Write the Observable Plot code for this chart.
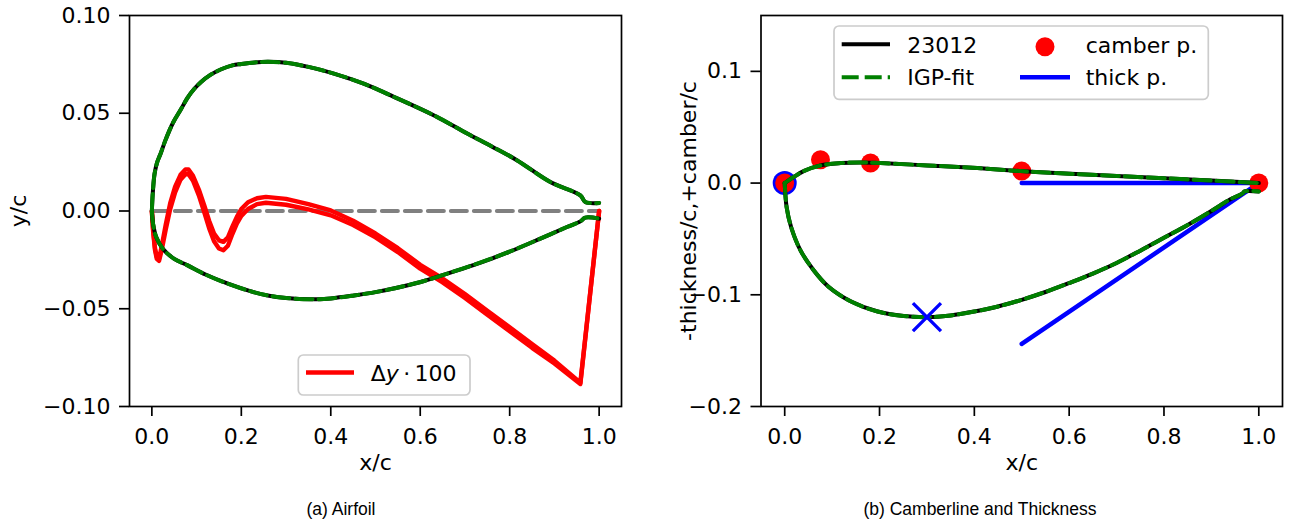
<!DOCTYPE html>
<html><head><meta charset="utf-8">
<script src="https://cdn.jsdelivr.net/npm/d3@7"></script>
<script src="https://cdn.jsdelivr.net/npm/@observablehq/plot@0.6"></script>
<style>
body{margin:0;background:#fff;}
#wrap{position:relative;width:1290px;height:526px;overflow:hidden;background:#fff;}
#wrap svg{position:absolute;top:0;}
</style></head><body><div id="wrap"></div>
<script>
// ---------- Panel (a): airfoil ----------
const upperX = [0, 0.002, 0.006, 0.012, 0.019, 0.03, 0.047, 0.065, 0.08, 0.095, 0.11, 0.13, 0.155, 0.18, 0.2, 0.23, 0.26, 0.3, 0.35, 0.407, 0.475, 0.541, 0.63, 0.705, 0.76, 0.816, 0.891, 0.958, 0.969, 1.0];
const upperY = [0, 0.009, 0.019, 0.025, 0.029, 0.036, 0.045, 0.052, 0.058, 0.0625, 0.066, 0.0695, 0.0725, 0.0745, 0.0752, 0.076, 0.0763, 0.0758, 0.0737, 0.0703, 0.065, 0.0584, 0.049, 0.0396, 0.033, 0.026, 0.0148, 0.008, 0.0046, 0.0041];
const lowerX = [0, 0.003, 0.0097, 0.0245, 0.05, 0.08, 0.12, 0.17, 0.22, 0.259, 0.3, 0.355, 0.4, 0.452, 0.5, 0.601, 0.65, 0.705, 0.76, 0.816, 0.87, 0.928, 0.958, 0.969, 1.0];
const lowerY = [0, -0.007, -0.0133, -0.0193, -0.0245, -0.0278, -0.0325, -0.0372, -0.041, -0.0432, -0.0445, -0.0452, -0.0447, -0.0432, -0.0415, -0.0363, -0.0328, -0.0287, -0.0243, -0.0193, -0.014, -0.0082, -0.0053, -0.0034, -0.0039];
const dyX  = [0, 0.003, 0.007, 0.011, 0.016, 0.022, 0.031, 0.041, 0.052, 0.064, 0.075, 0.082, 0.092, 0.105, 0.117, 0.128, 0.139, 0.15, 0.16, 0.17, 0.18, 0.19, 0.2, 0.215, 0.235, 0.255, 0.3, 0.35, 0.4, 0.45, 0.5, 0.55, 0.6, 0.65, 0.7, 0.75, 0.8, 0.85, 0.9, 0.958, 1.0];
const dyA  = [0, -0.01, -0.019, -0.0235, -0.0245, -0.018, -0.007, 0.004, 0.0125, 0.0185, 0.0212, 0.0212, 0.018, 0.011, 0.003, -0.005, -0.0115, -0.015, -0.0158, -0.0135, -0.008, -0.003, 0.001, 0.0045, 0.0065, 0.0072, 0.0062, 0.0035, 0.0003, -0.005, -0.0115, -0.019, -0.0275, -0.0345, -0.0425, -0.051, -0.0595, -0.068, -0.0765, -0.0878, 0];
const dyB  = [0, -0.011, -0.02, -0.0245, -0.0255, -0.02, -0.0095, 0.001, 0.0095, 0.016, 0.0188, 0.0188, 0.0155, 0.008, -0.0005, -0.0088, -0.0155, -0.0192, -0.0201, -0.0178, -0.0118, -0.0065, -0.0025, 0.001, 0.0035, 0.0042, 0.0032, 0.0008, -0.0022, -0.0072, -0.0135, -0.021, -0.0295, -0.0365, -0.0445, -0.053, -0.0615, -0.07, -0.078, -0.0885, 0];
const refX = [0, 1];
const refY = [0, 0];
const xTicks = [0, 0.2, 0.4, 0.6, 0.8, 1.0];
const yTicksA = [-0.1, -0.05, 0, 0.05, 0.1];

// ---------- Panel (b): camberline and thickness ----------
const camberX = [0, 0.019, 0.04, 0.0755, 0.118, 0.16, 0.202, 0.301, 0.406, 0.497, 0.582, 0.7, 0.8, 0.9, 1.0];
const camberY = [0, 0.0054, 0.0107, 0.0158, 0.0179, 0.0185, 0.0179, 0.0158, 0.0134, 0.0107, 0.0087, 0.0064, 0.0043, 0.0022, 0];
const thickX = [0, 0.004, 0.0135, 0.033, 0.061, 0.093, 0.14, 0.196, 0.251, 0.3, 0.35, 0.4, 0.45, 0.5, 0.55, 0.6, 0.65, 0.7, 0.75, 0.8, 0.85, 0.9, 0.94, 0.965, 0.97, 1.0];
const thickY = [0, -0.0214, -0.0393, -0.06, -0.078, -0.093, -0.106, -0.115, -0.119, -0.12, -0.1185, -0.115, -0.1105, -0.1045, -0.0975, -0.0895, -0.081, -0.0715, -0.0605, -0.049, -0.0375, -0.025, -0.0145, -0.0095, -0.0075, -0.0075];
const camberPtX = [0, 0.0755, 0.181, 0.5, 1.0];
const camberPtY = [0, 0.0209, 0.0179, 0.0107, 0];
const thickLEX = [0], thickLEY = [0];
const thickMaxX = [0.3], thickMaxY = [-0.12];
const thickTopX = [0.5, 1.0], thickTopY = [0, 0];
const thickSlopeX = [0.5, 1.0], thickSlopeY = [-0.144, 0];
const yTicksB = [-0.2, -0.1, 0, 0.1];

const pts = (xs, ys, s) => xs.map((x, i) => ({x, y: ys[i], s}));
const airfoil = [...pts(upperX, upperY, "u"), ...pts(lowerX, lowerY, "l")];
const dyLines = [...pts(dyX, dyA, "a"), ...pts(dyX, dyB, "b")];
const refLine = pts(refX, refY, "r");
const camberThick = [...pts(camberX, camberY, "c"), ...pts(thickX, thickY, "t")];
const thickLines = [...pts(thickTopX, thickTopY, "top"), ...pts(thickSlopeX, thickSlopeY, "slope")];

const FONT = "DejaVu Sans";
const style = {fontFamily: FONT, fontSize: "22px", color: "black", background: "transparent", overflow: "visible"};
const f1 = d3.format(".1f"), f2 = d3.format(".2f");
const ident = d => d;

const figA = Plot.plot({
  width: 660, height: 490,
  marginLeft: 129, marginRight: 39, marginTop: 15, marginBottom: 84,
  x: {domain: [-0.05, 1.05]},
  y: {domain: [-0.1, 0.1]},
  style,
  marks: [
    Plot.line(refLine, {x: "x", y: "y", stroke: "#808080", strokeWidth: 4, strokeDasharray: "16,7"}),
    Plot.line(dyLines, {x: "x", y: "y", z: "s", stroke: "red", strokeWidth: 4.4}),
    Plot.line(airfoil, {x: "x", y: "y", z: "s", stroke: "black", strokeWidth: 4, curve: "catmull-rom"}),
    Plot.line(airfoil, {x: "x", y: "y", z: "s", stroke: "green", strokeWidth: 4, strokeDasharray: "17,6", curve: "catmull-rom"}),
    Plot.frame({stroke: "black", strokeWidth: 1.7}),
    Plot.axisX({ticks: xTicks, tickFormat: f1, tickSize: 10, tickPadding: 12, strokeWidth: 1.7, label: null}),
    Plot.axisY({ticks: yTicksA, tickFormat: f2, tickSize: 10, tickPadding: 9, strokeWidth: 1.7, label: null}),
    Plot.text(["x/c"], {text: ident, frameAnchor: "bottom", dy: 63}),
    Plot.text(["y/c"], {text: ident, frameAnchor: "left", textAnchor: "middle", dx: -111, rotate: -90})
  ]
});
figA.style.left = "0px";

const figB = Plot.plot({
  width: 630, height: 490,
  marginLeft: 100.5, marginRight: 8, marginTop: 15, marginBottom: 84,
  x: {domain: [-0.05, 1.05]},
  y: {domain: [-0.2, 0.15]},
  style,
  marks: [
    Plot.line(thickLines, {x: "x", y: "y", z: "s", stroke: "blue", strokeWidth: 4.5}),
    Plot.dot(pts(thickLEX, thickLEY), {x: "x", y: "y", r: 12, fill: "blue"}),
    Plot.dot(pts(camberPtX, camberPtY), {x: "x", y: "y", r: 9.5, fill: "red"}),
    Plot.line(camberThick, {x: "x", y: "y", z: "s", stroke: "black", strokeWidth: 4, curve: "catmull-rom"}),
    Plot.line(camberThick, {x: "x", y: "y", z: "s", stroke: "green", strokeWidth: 4, strokeDasharray: "17,6", curve: "catmull-rom"}),
    Plot.dot(pts(thickMaxX, thickMaxY), {x: "x", y: "y", r: 12.8, symbol: "times", stroke: "blue", strokeWidth: 3.3}),
    Plot.frame({stroke: "black", strokeWidth: 1.7}),
    Plot.axisX({ticks: xTicks, tickFormat: f1, tickSize: 10, tickPadding: 12, strokeWidth: 1.7, label: null}),
    Plot.axisY({ticks: yTicksB, tickFormat: f1, tickSize: 10, tickPadding: 9, strokeWidth: 1.7, label: null}),
    Plot.text(["x/c"], {text: ident, frameAnchor: "bottom", dy: 63}),
    Plot.text(["-thickness/c,+camber/c"], {text: ident, frameAnchor: "left", textAnchor: "middle", dx: -72.5, rotate: -90})
  ]
});
figB.style.left = "660px";

const wrap = document.getElementById("wrap");
wrap.appendChild(figA);
wrap.appendChild(figB);

// ---------- legends and captions (overlay) ----------
const NS = "http://www.w3.org/2000/svg";
const ov = document.createElementNS(NS, "svg");
ov.setAttribute("width", 1290); ov.setAttribute("height", 526);
ov.style.left = "0px"; ov.style.pointerEvents = "none";
ov.setAttribute("font-family", FONT); ov.setAttribute("font-size", 22);
const el = (tag, attrs, text) => {
  const e = document.createElementNS(NS, tag);
  for (const k in attrs) e.setAttribute(k, attrs[k]);
  if (text != null) e.textContent = text;
  ov.appendChild(e); return e;
};
// legend (a)
el("rect", {x: 298.3, y: 355, width: 171.7, height: 40, rx: 5, fill: "white", "fill-opacity": 0.8, stroke: "#cccccc", "stroke-width": 1.7});
el("line", {x1: 306, x2: 354, y1: 372.5, y2: 372.5, stroke: "red", "stroke-width": 4.4});
const tA = el("text", {x: 370.7, y: 380.7});
tA.innerHTML = 'Δ<tspan font-style="italic">y</tspan>\u2009·\u2009100';
// legend (b)
el("rect", {x: 834, y: 26, width: 374.3, height: 73.3, rx: 5, fill: "white", "fill-opacity": 0.8, stroke: "#cccccc", "stroke-width": 1.7});
el("line", {x1: 841.7, x2: 890, y1: 44.3, y2: 44.3, stroke: "black", "stroke-width": 4});
el("text", {x: 907.3, y: 53.3}, "23012");
el("line", {x1: 841.7, x2: 890, y1: 77.3, y2: 77.3, stroke: "green", "stroke-width": 4, "stroke-dasharray": "17,6"});
el("text", {x: 907.3, y: 85.3}, "IGP-fit");
el("circle", {cx: 1045, cy: 46.7, r: 9.5, fill: "red"});
el("text", {x: 1085.7, y: 53.3}, "camber p.");
el("line", {x1: 1020, x2: 1070, y1: 77.3, y2: 77.3, stroke: "blue", "stroke-width": 4.5});
el("text", {x: 1085.7, y: 85.3}, "thick p.");
// captions
el("text", {x: 341, y: 514.5, "text-anchor": "middle", "font-family": "Liberation Sans, Arial, sans-serif", "font-size": 17.5}, "(a) Airfoil");
el("text", {x: 980, y: 514.5, "text-anchor": "middle", "font-family": "Liberation Sans, Arial, sans-serif", "font-size": 17.5}, "(b) Camberline and Thickness");
wrap.appendChild(ov);
</script>
</body></html>
